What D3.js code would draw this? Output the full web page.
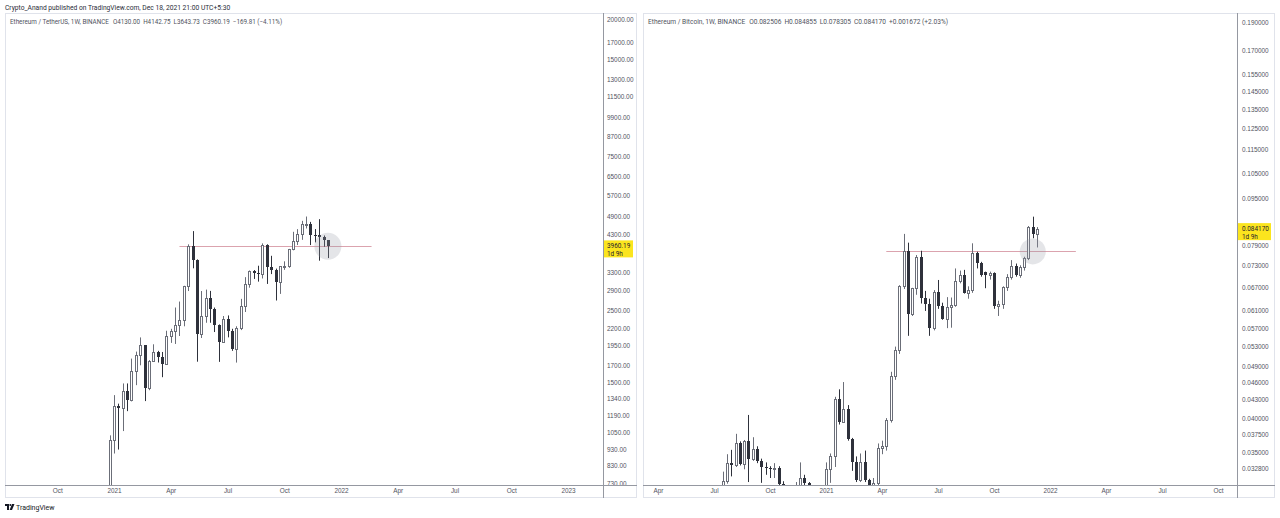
<!DOCTYPE html>
<html><head><meta charset="utf-8">
<script src="https://cdn.jsdelivr.net/npm/d3@7"></script>
<style>
html,body{margin:0;padding:0;background:#fff;}
svg{display:block;font-family:Roboto,"Liberation Sans",sans-serif;}
</style></head>
<body><svg id="chart" width="1280" height="518"></svg>
<script>
// ---------------- DATA ----------------
// ETH / USDT weekly (Binance), weeks starting Monday
const usdtFirstWeek = "2020-12-28";
const usdtOpen  = [683,993,1271,1247,1410,1327,1625,1821,1955,1438,1745,1865,1795,1713,2090,2170,2254,2342,2981,3962,3601,2120,2409,2738,2525,2265,2003,2352,2159,1910,2218,2586,3030,3330,3276,3262,3998,3420,3355,3080,3436,3445,3887,4104,4322,4641,4660,4310,4295,4223,4130.00];
const usdtHigh  = [1029,1371,1290,1490,1490,1779,1870,2069,1960,1760,1970,1880,1865,2170,2200,2561,2672,2990,4018,4416,3610,2880,2910,2883,2560,2270,2410,2420,2200,2240,2724,3180,3335,3345,3450,4046,4020,3703,3380,3436,3560,3890,4394,4478,4751,4900,4716,4480,4808,4280,4142.75];
const usdtLow   = [680,904,930,1061,1223,1311,1472,1696,1314,1420,1740,1730,1558,1705,1990,1975,2090,2240,2880,3387,1740,2060,2297,2297,2150,1738,1990,2070,1880,1729,2180,2480,2950,3140,3080,3150,3030,3250,2692,2822,3350,3400,3850,4000,4150,4500,3998,4075,3576,3950,3643.73];
const usdtClose = [993,1271,1247,1410,1327,1625,1821,1955,1438,1745,1865,1795,1713,2090,2170,2254,2342,2981,3962,3601,2120,2409,2738,2525,2265,2003,2352,2159,1910,2218,2586,3030,3330,3276,3262,3998,3420,3355,3080,3436,3445,3887,4104,4322,4641,4660,4310,4295,4223,4130,3960.19];
const usdtTicks = [20000,17000,15000,13000,11500,9900,8700,7500,6500,5700,4900,4300,3300,2900,2500,2200,1950,1700,1500,1340,1190,1050,930,830,730];
const usdtTimeLabels = ["Oct","2021","Apr","Jul","Oct","2022","Apr","Jul","Oct","2023"];
const usdtTimeDates  = ["2020-10-05","2021-01-04","2021-04-05","2021-07-05","2021-10-04","2022-01-03","2022-04-04","2022-07-04","2022-10-03","2023-01-02"];
const usdtLevel = {value:3962, from:"2021-04-19", to:"2022-02-21"};
const usdtMark  = {date:"2021-12-13", value:3962};
const usdtLegend = ["Ethereum / TetherUS, 1W, BINANCE","O4130.00","H4142.75","L3643.73","C3960.19","\u2212169.81 (\u22124.11%)"];

// ETH / BTC weekly (Binance)
const btcFirstWeek = "2020-07-20";
const btcOpen  = [0.0261,0.0312,0.0335,0.0333,0.0363,0.0334,0.0366,0.0341,0.0354,0.0338,0.0330,0.0329,0.0327,0.0329,0.0309,0.0281,0.0293,0.0281,0.0303,0.0316,0.0310,0.0304,0.0269,0.0260,
  0.0295,0.0328,0.0344,0.0431,0.0394,0.0414,0.0369,0.0336,0.0313,0.0337,0.0313,0.0306,0.0310,0.0355,0.0358,0.0397,0.0472,0.0523,0.0673,0.0773,0.0603,0.0667,0.0755,0.0641,0.0627,0.0570,
  0.0658,0.0622,0.0592,0.0619,0.0625,0.0687,0.0703,0.0655,0.0662,0.0765,0.0737,0.0710,0.0703,0.0707,0.0622,0.0627,0.0669,0.0698,0.0728,0.0703,0.0724,0.0750,0.0850,0.082506];
const btcHigh  = [0.0324,0.0347,0.0353,0.0376,0.0365,0.0367,0.0405,0.0371,0.0358,0.0341,0.0336,0.0331,0.0335,0.0331,0.0312,0.0299,0.0300,0.0311,0.0336,0.0320,0.0311,0.0306,0.0285,0.0306,
  0.0336,0.0348,0.0435,0.0448,0.0461,0.0421,0.0370,0.0344,0.0348,0.0352,0.0315,0.0316,0.0362,0.0366,0.0400,0.0480,0.0530,0.0675,0.0826,0.0798,0.0668,0.0760,0.0773,0.0660,0.0640,0.0662,
  0.0689,0.0630,0.0644,0.0643,0.0721,0.0715,0.0717,0.0672,0.0796,0.0770,0.0740,0.0712,0.0712,0.0710,0.0635,0.0672,0.0705,0.0745,0.0735,0.0730,0.0755,0.0852,0.0884,0.084855];
const btcLow   = [0.0258,0.0309,0.0318,0.0330,0.0332,0.0327,0.0311,0.0338,0.0335,0.0310,0.0320,0.0316,0.0316,0.0300,0.0275,0.0270,0.0276,0.0272,0.0295,0.0300,0.0290,0.0262,0.0250,0.0237,
  0.0285,0.0310,0.0330,0.0390,0.0394,0.0366,0.0325,0.0311,0.0311,0.0311,0.0300,0.0300,0.0306,0.0347,0.0352,0.0393,0.0465,0.0515,0.0665,0.0553,0.0598,0.0650,0.0628,0.0610,0.0553,0.0565,
  0.0615,0.0589,0.0570,0.0571,0.0620,0.0680,0.0653,0.0640,0.0655,0.0721,0.0698,0.0667,0.0690,0.0615,0.0598,0.0615,0.0660,0.0690,0.0698,0.0695,0.0715,0.0745,0.0812,0.078305];
const btcClose = [0.0312,0.0335,0.0333,0.0363,0.0334,0.0366,0.0341,0.0354,0.0338,0.0330,0.0329,0.0327,0.0329,0.0309,0.0281,0.0293,0.0281,0.0303,0.0316,0.0310,0.0304,0.0269,0.0260,0.0295,
  0.0328,0.0344,0.0431,0.0394,0.0414,0.0369,0.0336,0.0313,0.0337,0.0313,0.0306,0.0310,0.0355,0.0358,0.0397,0.0472,0.0523,0.0673,0.0773,0.0603,0.0667,0.0755,0.0641,0.0627,0.0570,0.0658,
  0.0622,0.0592,0.0619,0.0625,0.0687,0.0703,0.0655,0.0662,0.0765,0.0737,0.0703,0.0703,0.0707,0.0622,0.0627,0.0669,0.0698,0.0728,0.0703,0.0724,0.0750,0.0850,0.0825,0.08417];
const btcTicks = [0.19,0.17,0.155,0.145,0.135,0.125,0.115,0.105,0.095,0.079,0.073,0.067,0.061,0.057,0.053,0.049,0.046,0.043,0.040,0.0375,0.035,0.0328];
const btcTimeLabels = ["Apr","Jul","Oct","2021","Apr","Jul","Oct","2022","Apr","Jul","Oct"];
const btcTimeDates  = ["2020-04-06","2020-07-06","2020-10-05","2021-01-04","2021-04-05","2021-07-05","2021-10-04","2022-01-03","2022-04-04","2022-07-04","2022-10-03"];
const btcLevel = {value:0.0771, from:"2021-04-12", to:"2022-02-14"};
const btcMark  = {date:"2021-12-06", value:0.0771};
const btcLegend = ["Ethereum / Bitcoin, 1W, BINANCE","O0.082506","H0.084855","L0.078305","C0.084170","+0.001672 (+2.03%)"];

const headerText = "Crypto_Anand published on TradingView.com, Dec 18, 2021 21:00 UTC+5:30";

// ---------------- DRAW ----------------
const svg = d3.select("#chart");
const P = d3.utcParse("%Y-%m-%d");

function buildRows(first, o, h, l, c) {
  const start = P(first);
  const weeks = d3.utcMonday.range(start, d3.utcMonday.offset(start, o.length));
  return weeks.map((d, i) => ({date: d, o: o[i], h: h[i], l: l[i], c: c[i]}));
}

function drawPanel(cfg) {
  const g = svg.append("g");
  const {left, right, top, bottom, axisX, axisY} = cfg;
  g.append("rect").attr("x", left + 0.5).attr("y", top + 0.5)
    .attr("width", right - left - 1).attr("height", bottom - top - 1)
    .attr("fill", "#fff").attr("stroke", "#e0e3eb");

  const x = d3.scaleUtc().domain([P("2021-01-04"), P("2022-01-03")]).range(cfg.xRange);
  const y = d3.scaleLog().domain(cfg.yDomain).range(cfg.yRange);

  const clipId = "clip" + cfg.id;
  svg.append("clipPath").attr("id", clipId).append("rect")
    .attr("x", left + 1).attr("y", top + 1).attr("width", axisX - left - 1).attr("height", axisY - top - 1);
  const plot = g.append("g").attr("clip-path", `url(#${clipId})`);

  plot.append("line")
    .attr("x1", x(P(cfg.level.from))).attr("x2", x(P(cfg.level.to)))
    .attr("y1", Math.round(y(cfg.level.value)) + 0.5).attr("y2", Math.round(y(cfg.level.value)) + 0.5)
    .attr("stroke", "#dba3ae").attr("stroke-width", 1);

  const rows = cfg.rows;
  const up = "#6b6e78", down = "#2e313b";
  const cg = plot.selectAll("g.candle").data(rows).join("g").attr("class", "candle");
  cg.append("line")
    .attr("x1", d => Math.round(x(d.date)) + 0.5).attr("x2", d => Math.round(x(d.date)) + 0.5)
    .attr("y1", d => y(d.h)).attr("y2", d => y(d.l))
    .attr("stroke", d => d.c >= d.o ? up : down).attr("stroke-width", 1);
  cg.each(function(d) {
    const cx = Math.round(x(d.date));
    const yt = y(Math.max(d.o, d.c)), yb = y(Math.min(d.o, d.c));
    const sel = d3.select(this);
    if (d.c >= d.o) {
      sel.append("rect").attr("x", cx - 0.5).attr("y", Math.round(yt) + 0.5)
        .attr("width", 2).attr("height", Math.max(1, Math.round(yb) - Math.round(yt)))
        .attr("fill", "#fff").attr("stroke", up).attr("stroke-width", 1);
    } else {
      sel.append("rect").attr("x", cx - 1).attr("y", Math.round(yt))
        .attr("width", 3).attr("height", Math.max(1, Math.round(yb) - Math.round(yt)))
        .attr("fill", down);
    }
  });

  plot.append("circle")
    .attr("cx", x(P(cfg.mark.date))).attr("cy", y(cfg.mark.value)).attr("r", cfg.markR)
    .attr("fill", "rgba(150,153,165,0.26)");

  g.append("line").attr("x1", left).attr("x2", right).attr("y1", axisY + 0.5).attr("y2", axisY + 0.5)
    .attr("stroke", "#9598a1");
  g.append("line").attr("x1", axisX + 0.5).attr("x2", axisX + 0.5).attr("y1", top).attr("y2", bottom)
    .attr("stroke", "#9598a1");

  const clipA = "clipA" + cfg.id;
  svg.append("clipPath").attr("id", clipA).append("rect")
    .attr("x", axisX + 1).attr("y", top + 1).attr("width", right - axisX - 2).attr("height", axisY - top - 1);
  const ya = g.append("g").attr("clip-path", `url(#${clipA})`)
    .append("g").attr("transform", `translate(${axisX},0)`)
    .call(d3.axisRight(y).tickValues(cfg.ticks).tickFormat(cfg.fmt).tickSize(0).tickPadding(cfg.tickPad));
  ya.select(".domain").remove();
  ya.selectAll("text").attr("fill", "#50535e").style("font-size", cfg.axisFont + "px");

  const tmap = new Map(cfg.timeDates.map((d, i) => [+P(d), cfg.timeLabels[i]]));
  const xa = g.append("g").attr("transform", `translate(0,${axisY})`)
    .call(d3.axisBottom(x).tickValues(cfg.timeDates.map(P)).tickFormat(d => tmap.get(+d)).tickSize(0).tickPadding(3));
  xa.select(".domain").remove();
  xa.selectAll("text").attr("fill", "#50535e").style("font-size", cfg.axisFont + "px");

  const lg = g.append("text").attr("x", left + 5).attr("y", top + 11)
    .attr("fill", "#50535e").style("font-size", cfg.legendFont + "px");
  cfg.legend.forEach((t, i) => {
    lg.append("tspan").attr("dx", i === 0 ? 0 : (i === 1 ? 4 : 3)).text(t);
  });

  const last = rows[rows.length - 1];
  const ly = y(last.c);
  g.append("rect").attr("x", axisX + 1).attr("y", ly - 6).attr("width", cfg.tagW).attr("height", 17)
    .attr("fill", "#fbe51e");
  g.append("text").attr("x", axisX + cfg.tickPad).attr("y", ly).attr("dy", "0.32em")
    .attr("fill", "#1e222d").style("font-size", cfg.axisFont + "px").text(cfg.fmt(last.c));
  g.append("text").attr("x", axisX + cfg.tickPad).attr("y", ly + 7.5).attr("dy", "0.32em")
    .attr("fill", "#1e222d").style("font-size", cfg.axisFont + "px").text("1d 9h");
}

drawPanel({
  id: "L", left: 5, right: 637, top: 13, bottom: 498, axisX: 603, axisY: 485,
  xRange: [114, 341], yDomain: [730, 20000], yRange: [483.5, 19.3],
  rows: buildRows(usdtFirstWeek, usdtOpen, usdtHigh, usdtLow, usdtClose),
  ticks: usdtTicks, fmt: d3.format(".2f"), tickPad: 4,
  timeLabels: usdtTimeLabels, timeDates: usdtTimeDates,
  level: usdtLevel, mark: usdtMark, markR: 13.5,
  legend: usdtLegend, legendFont: 6.3, axisFont: 6.4, tagW: 29
});
drawPanel({
  id: "R", left: 643, right: 1275, top: 13, bottom: 498, axisX: 1237, axisY: 485,
  xRange: [826, 1050], yDomain: [0.0308, 0.19], yRange: [484.5, 22.3],
  rows: buildRows(btcFirstWeek, btcOpen, btcHigh, btcLow, btcClose),
  ticks: btcTicks, fmt: d3.format(".6f"), tickPad: 5,
  timeLabels: btcTimeLabels, timeDates: btcTimeDates,
  level: btcLevel, mark: btcMark, markR: 13,
  legend: btcLegend, legendFont: 6.6, axisFont: 6.4, tagW: 33
});

svg.append("text").attr("x", 5).attr("y", 10).attr("fill", "#2a2e39")
  .style("font-size", "6.7px").text(headerText);

const logo = svg.append("g").attr("transform", "translate(5,504)");
logo.append("path").attr("d", "M0,0H4V6H2V2H0Z").attr("fill", "#131722");
logo.append("circle").attr("cx", 5.3).attr("cy", 1).attr("r", 1).attr("fill", "#131722");
logo.append("path").attr("d", "M7,0H9.5L7,6H4.6Z").attr("fill", "#131722");
svg.append("text").attr("x", 16).attr("y", 510).attr("fill", "#131722")
  .style("font-size", "7px").text("TradingView");
</script>
</body></html>
